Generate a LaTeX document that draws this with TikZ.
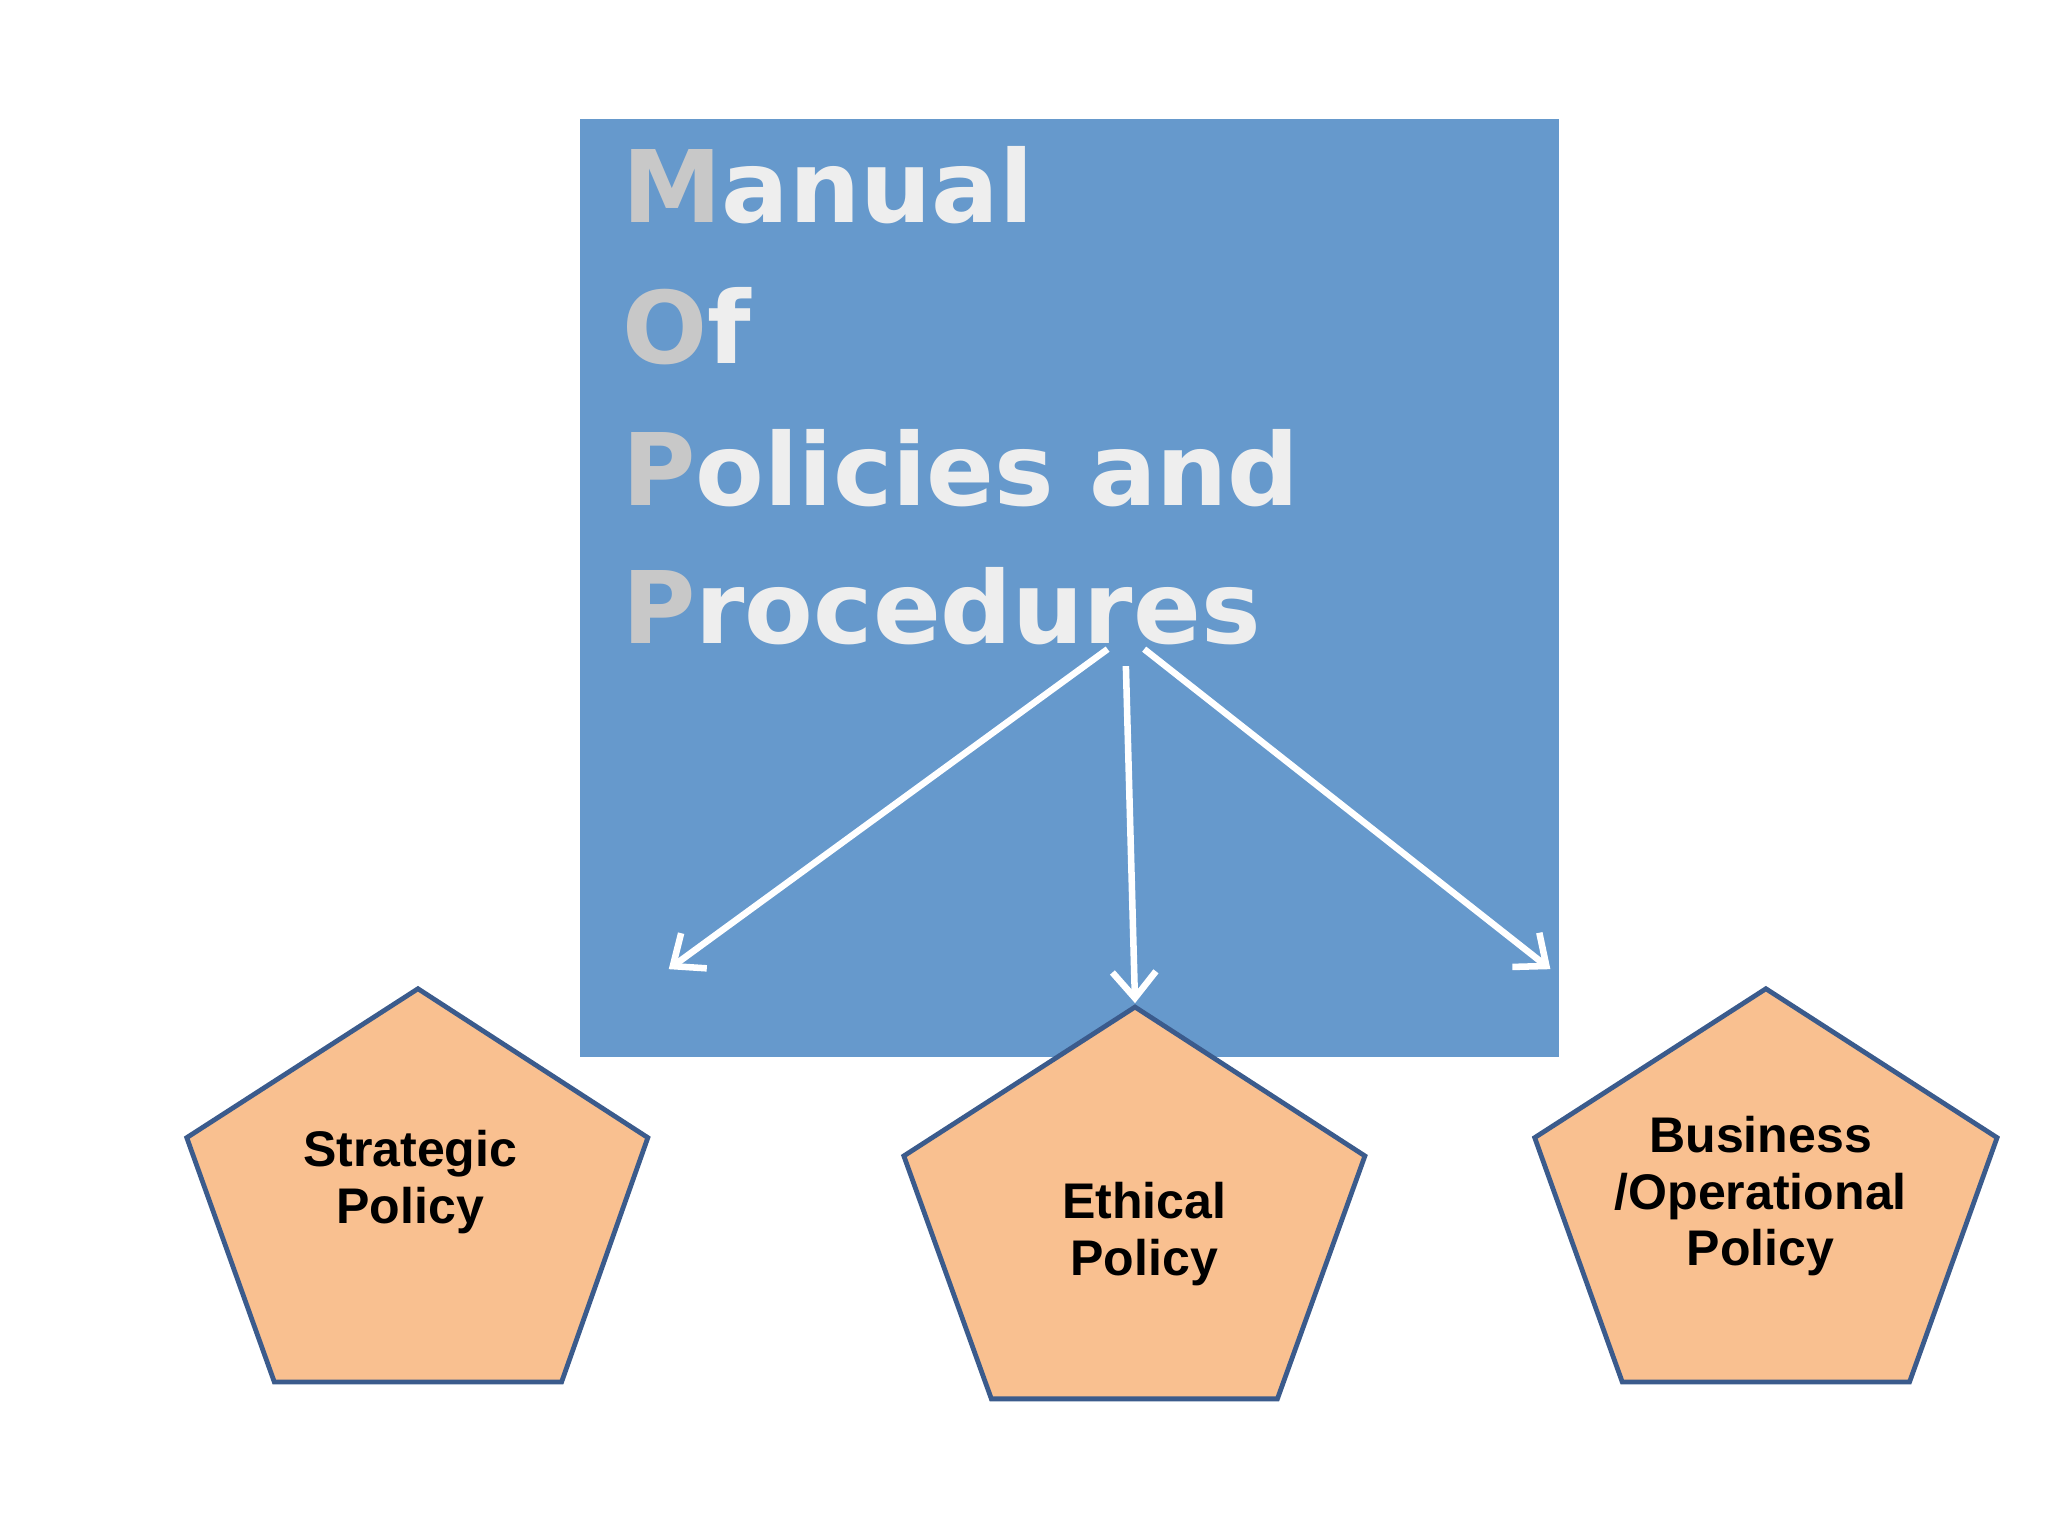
\documentclass[tikz,border=0pt]{standalone}
\usepackage{fontspec}
\setmainfont{Liberation Sans}
\newfontfamily\bigfont{DejaVu Sans}
\usetikzlibrary{arrows.meta}
\definecolor{boxblue}{HTML}{6699CC}
\definecolor{pent}{HTML}{F9C090}
\definecolor{pentline}{HTML}{3B5B8C}
\definecolor{txtw}{HTML}{EEEEEE}
\definecolor{txtg}{HTML}{C8C8C8}
\tikzset{
  pentshape/.style={draw=pentline,fill=pent,line width=2.2pt,line join=miter},
  lbl/.style={font=\bfseries\fontsize{23}{26}\selectfont,align=center,text=black},
  title/.style={font=\bigfont\bfseries\fontsize{46}{50}\selectfont,text=txtw,anchor=base west,inner sep=0},
  wht/.style={draw=white,line width=3pt,-{Straight Barb[length=12pt,width=20pt,line width=3pt]}}
}
\begin{document}
\begin{tikzpicture}[x=0.6pt,y=-0.6pt]
\useasboundingbox (0,0) rectangle (1568,1176);
\fill[white] (0,0) rectangle (1568,1176);
\node[fill=boxblue,minimum width=449.4pt,minimum height=430.8pt,inner sep=0,anchor=north west] (box) at (444,91) {};
\node[title] (t1) at (476,170) {{\color{txtg}M}anual};
\node[title] (t2) at (476,278) {{\color{txtg}O}f};
\node[title] (t3) at (476,387) {{\color{txtg}P}olicies and};
\node[title] (t4) at (476,493) {{\color{txtg}P}rocedures};
\coordinate (s1) at (848,497); \coordinate (e1) at (512,742);
\coordinate (s2) at (862,510); \coordinate (e2) at (869,768);
\coordinate (s3) at (876,497); \coordinate (e3) at (1187,742);
\draw[wht] (s1) -- (e1);
\draw[wht] (s2) -- (e2);
\draw[wht] (s3) -- (e3);
\draw[pentshape] (320,757) coordinate (p1) -- (496,871) -- (430,1058) -- (210,1058) -- (143,871) -- cycle;
\draw[pentshape] (869,771) coordinate (p2) -- (1045,885) -- (978,1071) -- (759,1071) -- (692,885) -- cycle;
\draw[pentshape] (1352,757) coordinate (p3) -- (1529,871) -- (1462,1058) -- (1242,1058) -- (1175,871) -- cycle;
\node[lbl] (l1) at (314,905) {Strategic\\Policy};
\node[lbl] (l2) at (876,945) {Ethical\\Policy};
\node[lbl] (l3) at (1348,916) {Business\\/Operational\\Policy};
\end{tikzpicture}
\end{document}
